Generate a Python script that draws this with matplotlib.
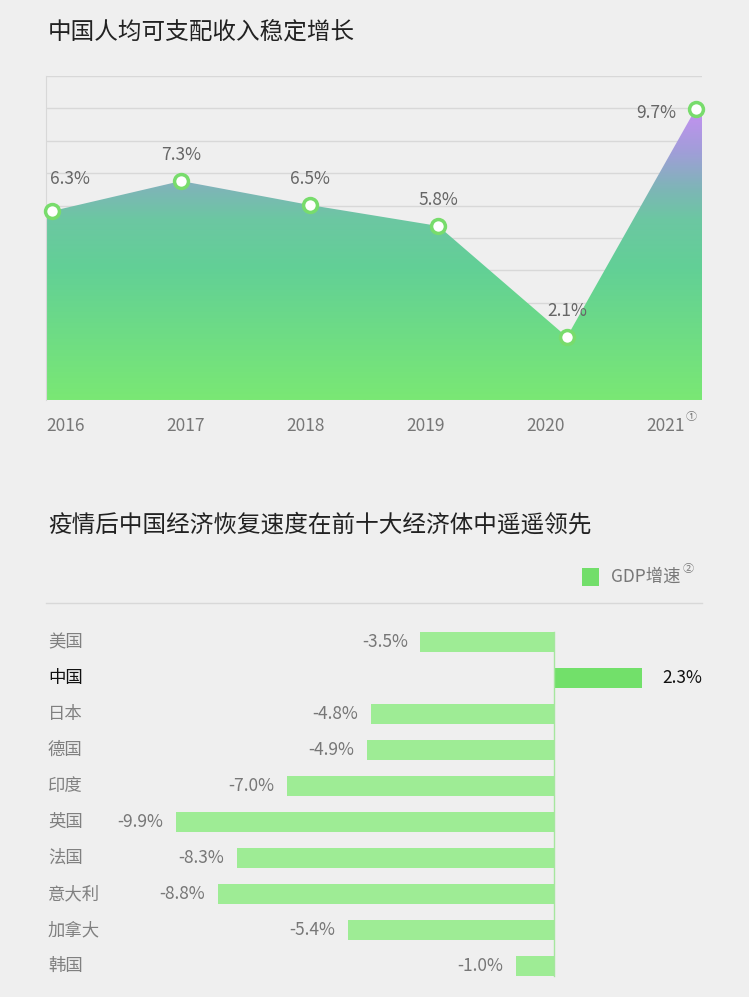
import numpy as np
import matplotlib
matplotlib.use("Agg")
import matplotlib.pyplot as plt
from matplotlib.colors import LinearSegmentedColormap
from matplotlib.patches import Polygon, Rectangle
from matplotlib.lines import Line2D

plt.rcParams['font.family'] = ['Noto Sans CJK SC', 'DejaVu Sans']

# Data: per-capita disposable income growth
years = ["2016", "2017", "2018", "2019", "2020", "2021"]
income_growth = [6.3, 7.3, 6.5, 5.8, 2.1, 9.7]

# Data: GDP growth of top ten economies
countries = ["美国", "中国", "日本", "德国", "印度", "英国", "法国", "意大利", "加拿大", "韩国"]
gdp_growth = [-3.5, 2.3, -4.8, -4.9, -7.0, -9.9, -8.3, -8.8, -5.4, -1.0]

BG = "#efefef"
W, H = 749, 997

fig = plt.figure(figsize=(W / 100, H / 100), dpi=100, facecolor=BG)

def fx(px):
    return px / W

def fy(py):
    return 1 - py / H

# ---------- top chart ----------
fig.text(fx(48), fy(33), "中国人均可支配收入稳定增长", fontsize=17, color="#222222",
         va="center", ha="left")

ax1 = fig.add_axes([fx(46), fy(400), 656 / W, 324 / H])
ax1.set_facecolor(BG)
x = np.arange(len(years))
ax1.set_xlim(-0.05, len(years) - 1 + 0.05)
ymax = 10.8
ax1.set_ylim(0, ymax)

for g in np.linspace(0, ymax, 11)[1:]:
    ax1.axhline(g, color="#d8d8d8", lw=1, zorder=0)

xs = np.concatenate([[ax1.get_xlim()[0]], x, [ax1.get_xlim()[1]]])
ys = np.concatenate([[income_growth[0]], income_growth, [income_growth[-1]]])
poly_pts = np.column_stack([np.concatenate([xs, xs[::-1]]),
                            np.concatenate([ys, np.zeros_like(ys)])])
poly = Polygon(poly_pts, closed=True, facecolor="none", edgecolor="none")
ax1.add_patch(poly)

cmap = LinearSegmentedColormap.from_list("grad", [
    (0.0, "#7ae874"),
    (0.45, "#62d096"),
    (0.62, "#6cc7a2"),
    (0.72, "#7db6b6"),
    (0.85, "#a09ed8"),
    (1.0, "#c590f2"),
])
grad = np.linspace(0, 1, 256).reshape(-1, 1)
im = ax1.imshow(grad, extent=[xs[0], xs[-1], 0, max(income_growth)], origin="lower",
                aspect="auto", cmap=cmap, zorder=1)
im.set_clip_path(poly)

ax1.plot(x, income_growth, "o", ms=10, mfc="white", mec="#78dc6c", mew=2.5,
         zorder=3, clip_on=False)

for i, v in enumerate(income_growth):
    label = f"{v}%"
    if i == 0:
        ax1.annotate(label, (x[i], v), xytext=(-2, 23), textcoords="offset points",
                     ha="left", va="center", fontsize=12.5, color="#666666")
    elif i == len(income_growth) - 1:
        ax1.annotate(label, (x[i], v), xytext=(-14, -3), textcoords="offset points",
                     ha="right", va="center", fontsize=12.5, color="#666666")
    else:
        ax1.annotate(label, (x[i], v), xytext=(0, 19), textcoords="offset points",
                     ha="center", va="center", fontsize=12.5, color="#666666")

for s in ["top", "right", "bottom"]:
    ax1.spines[s].set_visible(False)
ax1.spines["left"].set_color("#d8d8d8")
ax1.set_xticks([])
ax1.set_yticks([])

for i, yr in enumerate(years):
    fig.text(fx(46 + i * 120), fy(426), yr, fontsize=12.5, color="#777777",
             ha="left", va="center")
fig.text(fx(686), fy(417), "①", fontsize=8, color="#777777", ha="left", va="center")

# ---------- bottom chart ----------
fig.text(fx(48), fy(525), "疫情后中国经济恢复速度在前十大经济体中遥遥领先", fontsize=17,
         color="#222222", va="center", ha="left")

fig.patches.append(Rectangle((fx(582), fy(586)), 17 / W, 18 / H, transform=fig.transFigure,
                             facecolor="#72de6a", edgecolor="none"))
fig.text(fx(611), fy(577), "GDP增速", fontsize=12.5, color="#777777", ha="left", va="center")
fig.text(fx(683), fy(569), "②", fontsize=8, color="#777777", ha="left", va="center")
fig.lines.append(Line2D([fx(46), fx(702)], [fy(603), fy(603)], transform=fig.transFigure,
                        color="#d8d8d8", lw=1))

ax2 = fig.add_axes([fx(46), fy(984), 656 / W, 360 / H])
ax2.set_facecolor(BG)
ax2.patch.set_alpha(0)
ypos = np.arange(len(countries))
ax2.set_xlim(-13.3, 3.87)
ax2.set_ylim(len(countries) - 0.5, -0.5)

colors = ["#72e06a" if c == "中国" else "#9eec95" for c in countries]
ax2.barh(ypos, gdp_growth, height=0.56, color=colors, zorder=2)
ax2.plot([0, 0], [-0.28, len(countries) - 0.72], color="#a6e69e", lw=1, zorder=3)

for i, (c, v) in enumerate(zip(countries, gdp_growth)):
    is_cn = c == "中国"
    ax2.text(0.003, i, c, transform=ax2.get_yaxis_transform(), fontsize=12.5,
             color="#111111" if is_cn else "#808080", ha="left", va="center")
    if v < 0:
        ax2.text(v - 0.33, i, f"{v}%", fontsize=12.5, color="#777777",
                 ha="right", va="center")
    else:
        ax2.text(1.0, i, f"{v}%", transform=ax2.get_yaxis_transform(), fontsize=12.5,
                 color="#111111", ha="right", va="center")

for s in ax2.spines.values():
    s.set_visible(False)
ax2.set_xticks([])
ax2.set_yticks([])

fig.savefig("out.png", dpi=100, facecolor=BG)
